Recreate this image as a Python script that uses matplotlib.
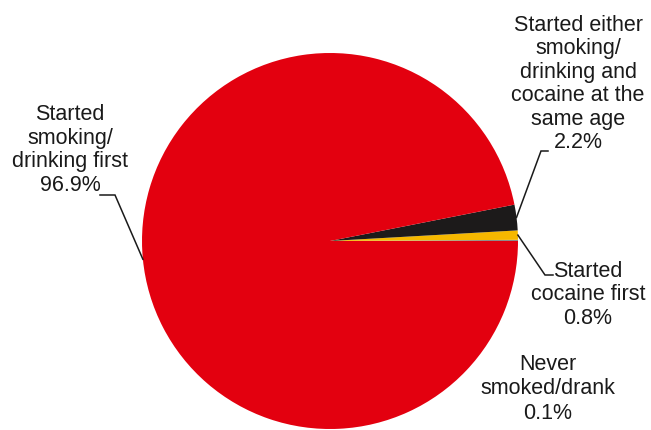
import numpy as np
import matplotlib.pyplot as plt

plt.rcParams['font.family'] = ['Liberation Sans', 'DejaVu Sans']

# Shares in percent, drawn counter-clockwise from 3 o'clock
labels = [
    "Never\nsmoked/drank\n0.1%",
    "Started\ncocaine first\n0.8%",
    "Started either\nsmoking/\ndrinking and\ncocaine at the\nsame age\n2.2%",
    "Started\nsmoking/\ndrinking first\n96.9%",
]
shares = [0.1, 0.8, 2.2, 96.9]
colors = ["#8c8c8c", "#f6b800", "#1c1a1a", "#e3000f"]

# label centres (px from top-left) and leader elbow points (None = no leader)
text_pos = [(548, 389), (588, 295), (578, 84), (70, 150)]
elbows = [None, [(545, 276), (553, 276)], [(541, 152), (548, 152)],
          [(115, 196), (100, 196)]]
spacing = [1.22, 1.15, 1.15, 1.15]

W, H = 651, 431
CX, CY, R = 330, 242, 188


def to_data(p):
    return ((p[0] - CX) / R, (CY - p[1]) / R)


fig = plt.figure(figsize=(W / 100, H / 100), dpi=100)
ax = fig.add_axes([0, 0, 1, 1])

wedges, _ = ax.pie(shares, colors=colors, startangle=0, counterclock=True,
                   radius=1, center=(0, 0), frame=True,
                   wedgeprops=dict(linewidth=0))
ax.set_xlim(-CX / R, (W - CX) / R)
ax.set_ylim(-(H - CY) / R, CY / R)
ax.set_aspect("auto")
ax.axis("off")

for w, lab, tp, elb, ls in zip(wedges, labels, text_pos, elbows, spacing):
    mid = np.deg2rad((w.theta1 + w.theta2) / 2)
    if elb is not None:
        pts = [(np.cos(mid), np.sin(mid))] + [to_data(p) for p in elb]
        xs, ys = zip(*pts)
        ax.plot(xs, ys, color="#1a1a1a", lw=1.1, solid_joinstyle="miter")
    tx, ty = to_data(tp)
    ax.text(tx, ty, lab, ha="center", va="center", multialignment="center",
            fontsize=15.5, linespacing=ls, color="#1a1a1a")

fig.savefig("out.png", dpi=100)
